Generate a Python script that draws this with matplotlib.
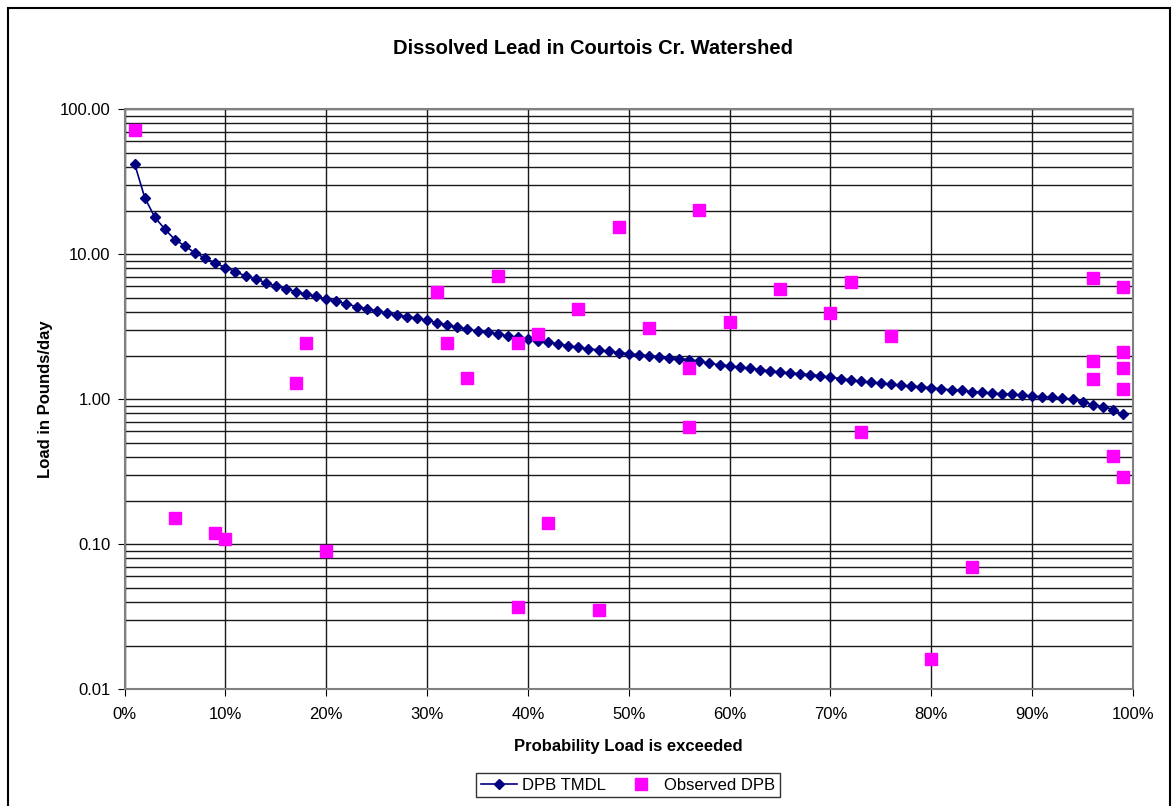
import numpy as np
import matplotlib.pyplot as plt
from matplotlib.ticker import FixedLocator, FuncFormatter, LogLocator, NullFormatter

plt.rcParams['font.family'] = ['Liberation Sans', 'DejaVu Sans']

# DPB TMDL curve, 1% .. 99%
tmdl_pct = np.arange(1, 100) / 100.0
tmdl_load = [42, 24.6, 18, 14.9, 12.6, 11.4, 10.2, 9.38, 8.71, 8.09,
             7.59, 7.08, 6.76, 6.37, 6.04, 5.79, 5.52, 5.30, 5.13, 4.92,
             4.74, 4.56, 4.35, 4.22, 4.08, 3.92, 3.80, 3.72, 3.62, 3.51,
             3.37, 3.25, 3.15, 3.05, 2.96, 2.90, 2.82, 2.73, 2.68, 2.59,
             2.51, 2.47, 2.41, 2.34, 2.28, 2.23, 2.19, 2.14, 2.10, 2.06,
             2.03, 2.00, 1.97, 1.94, 1.91, 1.87, 1.83, 1.77, 1.73, 1.70,
             1.66, 1.64, 1.60, 1.57, 1.54, 1.52, 1.50, 1.48, 1.45, 1.42,
             1.39, 1.36, 1.33, 1.31, 1.29, 1.27, 1.25, 1.23, 1.22, 1.20,
             1.18, 1.16, 1.15, 1.13, 1.12, 1.10, 1.09, 1.08, 1.07, 1.05,
             1.04, 1.03, 1.02, 1.00, 0.96, 0.92, 0.89, 0.85, 0.79]

# Observed DPB samples
obs_pct = [0.01, 0.05, 0.09, 0.10, 0.17, 0.18, 0.20, 0.31, 0.32, 0.34,
           0.37, 0.39, 0.39, 0.41, 0.42, 0.45, 0.47, 0.49, 0.52, 0.56,
           0.56, 0.57, 0.60, 0.65, 0.70, 0.72, 0.73, 0.76, 0.80, 0.84,
           0.96, 0.96, 0.96, 0.98, 0.99, 0.99, 0.99, 0.99, 0.99]
obs_load = [72, 0.152, 0.12, 0.109, 1.29, 2.44, 0.09, 5.5, 2.44, 1.40,
            7.1, 2.44, 0.037, 2.8, 0.14, 4.2, 0.035, 15.5, 3.12, 1.65,
            0.647, 20.2, 3.43, 5.77, 3.94, 6.47, 0.598, 2.72, 0.0162, 0.0697,
            6.87, 1.84, 1.39, 0.406, 5.95, 2.11, 1.64, 1.17, 0.292]

x_ticks = np.arange(0, 1.01, 0.1)
y_ticks = [0.01, 0.1, 1, 10, 100]

fig = plt.figure(figsize=(11.74, 8.06), dpi=100)
ax = fig.add_axes([0.1061, 0.1448, 0.8590, 0.7196])

ax.plot(tmdl_pct, tmdl_load, color='#000080', marker='D', markersize=5.5,
        linewidth=1.2, label='DPB TMDL', zorder=3)
ax.plot(obs_pct, obs_load, linestyle='none', marker='s', markersize=8,
        color='#FF00FF', label='Observed DPB', zorder=4)

ax.set_yscale('log')
ax.set_xlim(0, 1)
ax.set_ylim(0.01, 100)
ax.xaxis.set_major_locator(FixedLocator(x_ticks))
ax.xaxis.set_major_formatter(FuncFormatter(lambda v, p: f"{v * 100:.0f}%"))
ax.yaxis.set_major_locator(FixedLocator(y_ticks))
ax.yaxis.set_major_formatter(FuncFormatter(lambda v, p: f"{v:.2f}"))
ax.yaxis.set_minor_locator(LogLocator(base=10, subs=np.arange(2, 10)))
ax.yaxis.set_minor_formatter(NullFormatter())

ax.grid(True, which='major', axis='both', color='#1a1a1a', linewidth=1.0)
ax.grid(True, which='minor', axis='y', color='#1a1a1a', linewidth=1.0)
ax.set_axisbelow(True)
for s in ax.spines.values():
    s.set_color('#808080')
    s.set_linewidth(1.5)

ax.tick_params(axis='both', which='major', direction='out', length=5,
               labelsize=12, color='black', pad=5)
ax.tick_params(axis='x', which='major', pad=8)
ax.tick_params(axis='y', which='minor', length=0)

fig.text(0.505, 1 - 48 / 806, 'Dissolved Lead in Courtois Cr. Watershed',
         fontsize=14.5, fontweight='bold', ha='center', va='center')
ax.set_xlabel('Probability Load is exceeded', fontsize=12, fontweight='bold',
              labelpad=12)
ax.set_ylabel('Load in Pounds/day', fontsize=12, fontweight='bold', labelpad=5)

leg = fig.legend(loc='center', bbox_to_anchor=(0.535, 0.026), ncol=2,
                 fontsize=12, frameon=True, fancybox=False,
                 edgecolor='black', handlelength=2.2, handletextpad=0.3,
                 columnspacing=1.0, borderpad=0.25)
leg.get_frame().set_linewidth(1.0)

fig.patches.append(plt.Rectangle((0.007, -0.01), 0.99, 1.0, transform=fig.transFigure,
                                 fill=False, edgecolor='black', linewidth=1.5))

fig.savefig('out.png', dpi=100)
